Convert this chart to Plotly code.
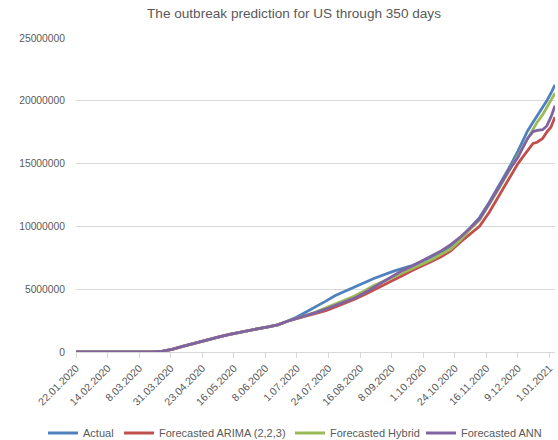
import plotly.graph_objects as go

dates = [
    "2020-01-22", "2020-01-29", "2020-02-05", "2020-02-12", "2020-02-19", "2020-02-26",
    "2020-03-04", "2020-03-11", "2020-03-18", "2020-03-25", "2020-04-01", "2020-04-08",
    "2020-04-15", "2020-04-22", "2020-04-29", "2020-05-06", "2020-05-13", "2020-05-20",
    "2020-05-27", "2020-06-03", "2020-06-10", "2020-06-17", "2020-06-24", "2020-07-01",
    "2020-07-08", "2020-07-15", "2020-07-22", "2020-07-29", "2020-08-05", "2020-08-12",
    "2020-08-19", "2020-08-26", "2020-09-02", "2020-09-09", "2020-09-16", "2020-09-23",
    "2020-09-30", "2020-10-07", "2020-10-14", "2020-10-21", "2020-10-28", "2020-11-04",
    "2020-11-11", "2020-11-18", "2020-11-25", "2020-12-02", "2020-12-09", "2020-12-13",
    "2020-12-16", "2020-12-20", "2020-12-23", "2020-12-27", "2020-12-30", "2021-01-02",
    "2021-01-05",
]

early = [1, 5, 12, 13, 15, 60, 150, 1300, 9400, 66000, 215000, 430000, 640000, 840000,
         1040000, 1230000, 1400000, 1570000, 1710000, 1860000, 2000000, 2160000, 2450000]

actual = early + [
    2780000, 3200000, 3600000, 4050000, 4500000, 4850000, 5220000, 5520000, 5850000,
    6150000, 6420000, 6660000, 6880000, 7200000, 7550000, 7950000, 8330000, 9000000,
    9850000, 10700000, 11900000, 13200000, 14550000, 16000000, 16950000, 17600000,
    18300000, 18800000, 19500000, 20000000, 20600000, 21260000,
]

arima = early + [
    2650000, 2850000, 3050000, 3300000, 3580000, 3880000, 4200000, 4550000, 4950000,
    5300000, 5700000, 6100000, 6480000, 6870000, 7200000, 7580000, 8050000, 8750000,
    9400000, 10000000, 11100000, 12400000, 13800000, 15000000, 15600000, 16000000,
    16600000, 16700000, 17000000, 17500000, 17900000, 18700000,
]

hybrid = early + [
    2660000, 2920000, 3200000, 3500000, 3820000, 4150000, 4450000, 4850000, 5300000,
    5620000, 5950000, 6260000, 6600000, 6980000, 7350000, 7750000, 8200000, 8900000,
    9750000, 10500000, 11700000, 13000000, 14300000, 15600000, 16400000, 17000000,
    17700000, 18300000, 18900000, 19500000, 20000000, 20600000,
]

ann = early + [
    2670000, 2900000, 3150000, 3420000, 3720000, 4000000, 4300000, 4700000, 5150000,
    5650000, 6100000, 6500000, 6850000, 7250000, 7620000, 8050000, 8550000, 9150000,
    9850000, 10600000, 11800000, 13100000, 14400000, 15500000, 16300000, 17000000,
    17550000, 17650000, 17700000, 18000000, 18700000, 19600000,
]

tick_dates = [
    "2020-01-22", "2020-02-14", "2020-03-08", "2020-03-31", "2020-04-23", "2020-05-16",
    "2020-06-08", "2020-07-01", "2020-07-24", "2020-08-16", "2020-09-08", "2020-10-01",
    "2020-10-24", "2020-11-16", "2020-12-09", "2021-01-01",
]
tick_labels = [
    "22.01.2020", "14.02.2020", "8.03.2020", "31.03.2020", "23.04.2020", "16.05.2020",
    "8.06.2020", "1.07.2020", "24.07.2020", "16.08.2020", "8.09.2020", "1.10.2020",
    "24.10.2020", "16.11.2020", "9.12.2020", "1.01.2021",
]

series = [
    ("Actual", actual, "#4F81BD"),
    ("Forecasted ARIMA (2,2,3)", arima, "#C0504D"),
    ("Forecasted Hybrid", hybrid, "#9BBB59"),
    ("Forecasted ANN", ann, "#8064A2"),
]

W, H = 558, 440
legend_ids = ["legend", "legend2", "legend3", "legend4"]
legend_px = [43, 119, 290, 421]  # left edge of each legend entry (px)

fig = go.Figure()
for (name, vals, color), lid in zip(series, legend_ids):
    fig.add_trace(go.Scatter(x=dates, y=vals, mode="lines", name=name, legend=lid,
                             line=dict(color=color, width=2.8)))

font_family = "Liberation Sans, Arial, sans-serif"
legend_common = dict(orientation="h", xref="container", yref="container",
                     xanchor="left", yanchor="middle", y=1 - 433 / H,
                     font=dict(size=11, color="#595959"), itemwidth=30,
                     bgcolor="rgba(0,0,0,0)", borderwidth=0)
legends = {lid: dict(legend_common, x=px / W) for lid, px in zip(legend_ids, legend_px)}

fig.update_layout(
    width=W, height=H,
    margin=dict(l=76, r=3, t=38, b=88, autoexpand=False),
    paper_bgcolor="white", plot_bgcolor="white",
    font=dict(family=font_family, color="#595959", size=11),
    title=dict(text="The outbreak prediction for US through 350 days",
               x=294 / W, xanchor="center", y=1 - 13 / H, yanchor="middle",
               xref="container", yref="container",
               font=dict(size=13.6, color="#595959")),
    showlegend=True,
    **legends,
)
fig.update_xaxes(
    type="date", range=["2020-01-22", "2021-01-05"], automargin=False,
    tickmode="array", tickvals=tick_dates, ticktext=tick_labels,
    tickangle=-45, showgrid=False, showline=True, linecolor="#D9D9D9", linewidth=1,
    ticks="outside", ticklen=5, tickcolor="#D9D9D9", tickfont=dict(size=10.5),
    zeroline=False,
)
fig.update_yaxes(
    range=[0, 25000000], dtick=5000000, tickformat="d", automargin=False,
    showgrid=True, gridcolor="#D9D9D9", gridwidth=1, zeroline=False,
    showline=False, ticks="", ticklabelstandoff=10, tickfont=dict(size=10.3),
)

fig.write_html("out.html", config={"displayModeBar": False},
               post_script="document.body.style.margin='0';document.body.style.padding='0';")
